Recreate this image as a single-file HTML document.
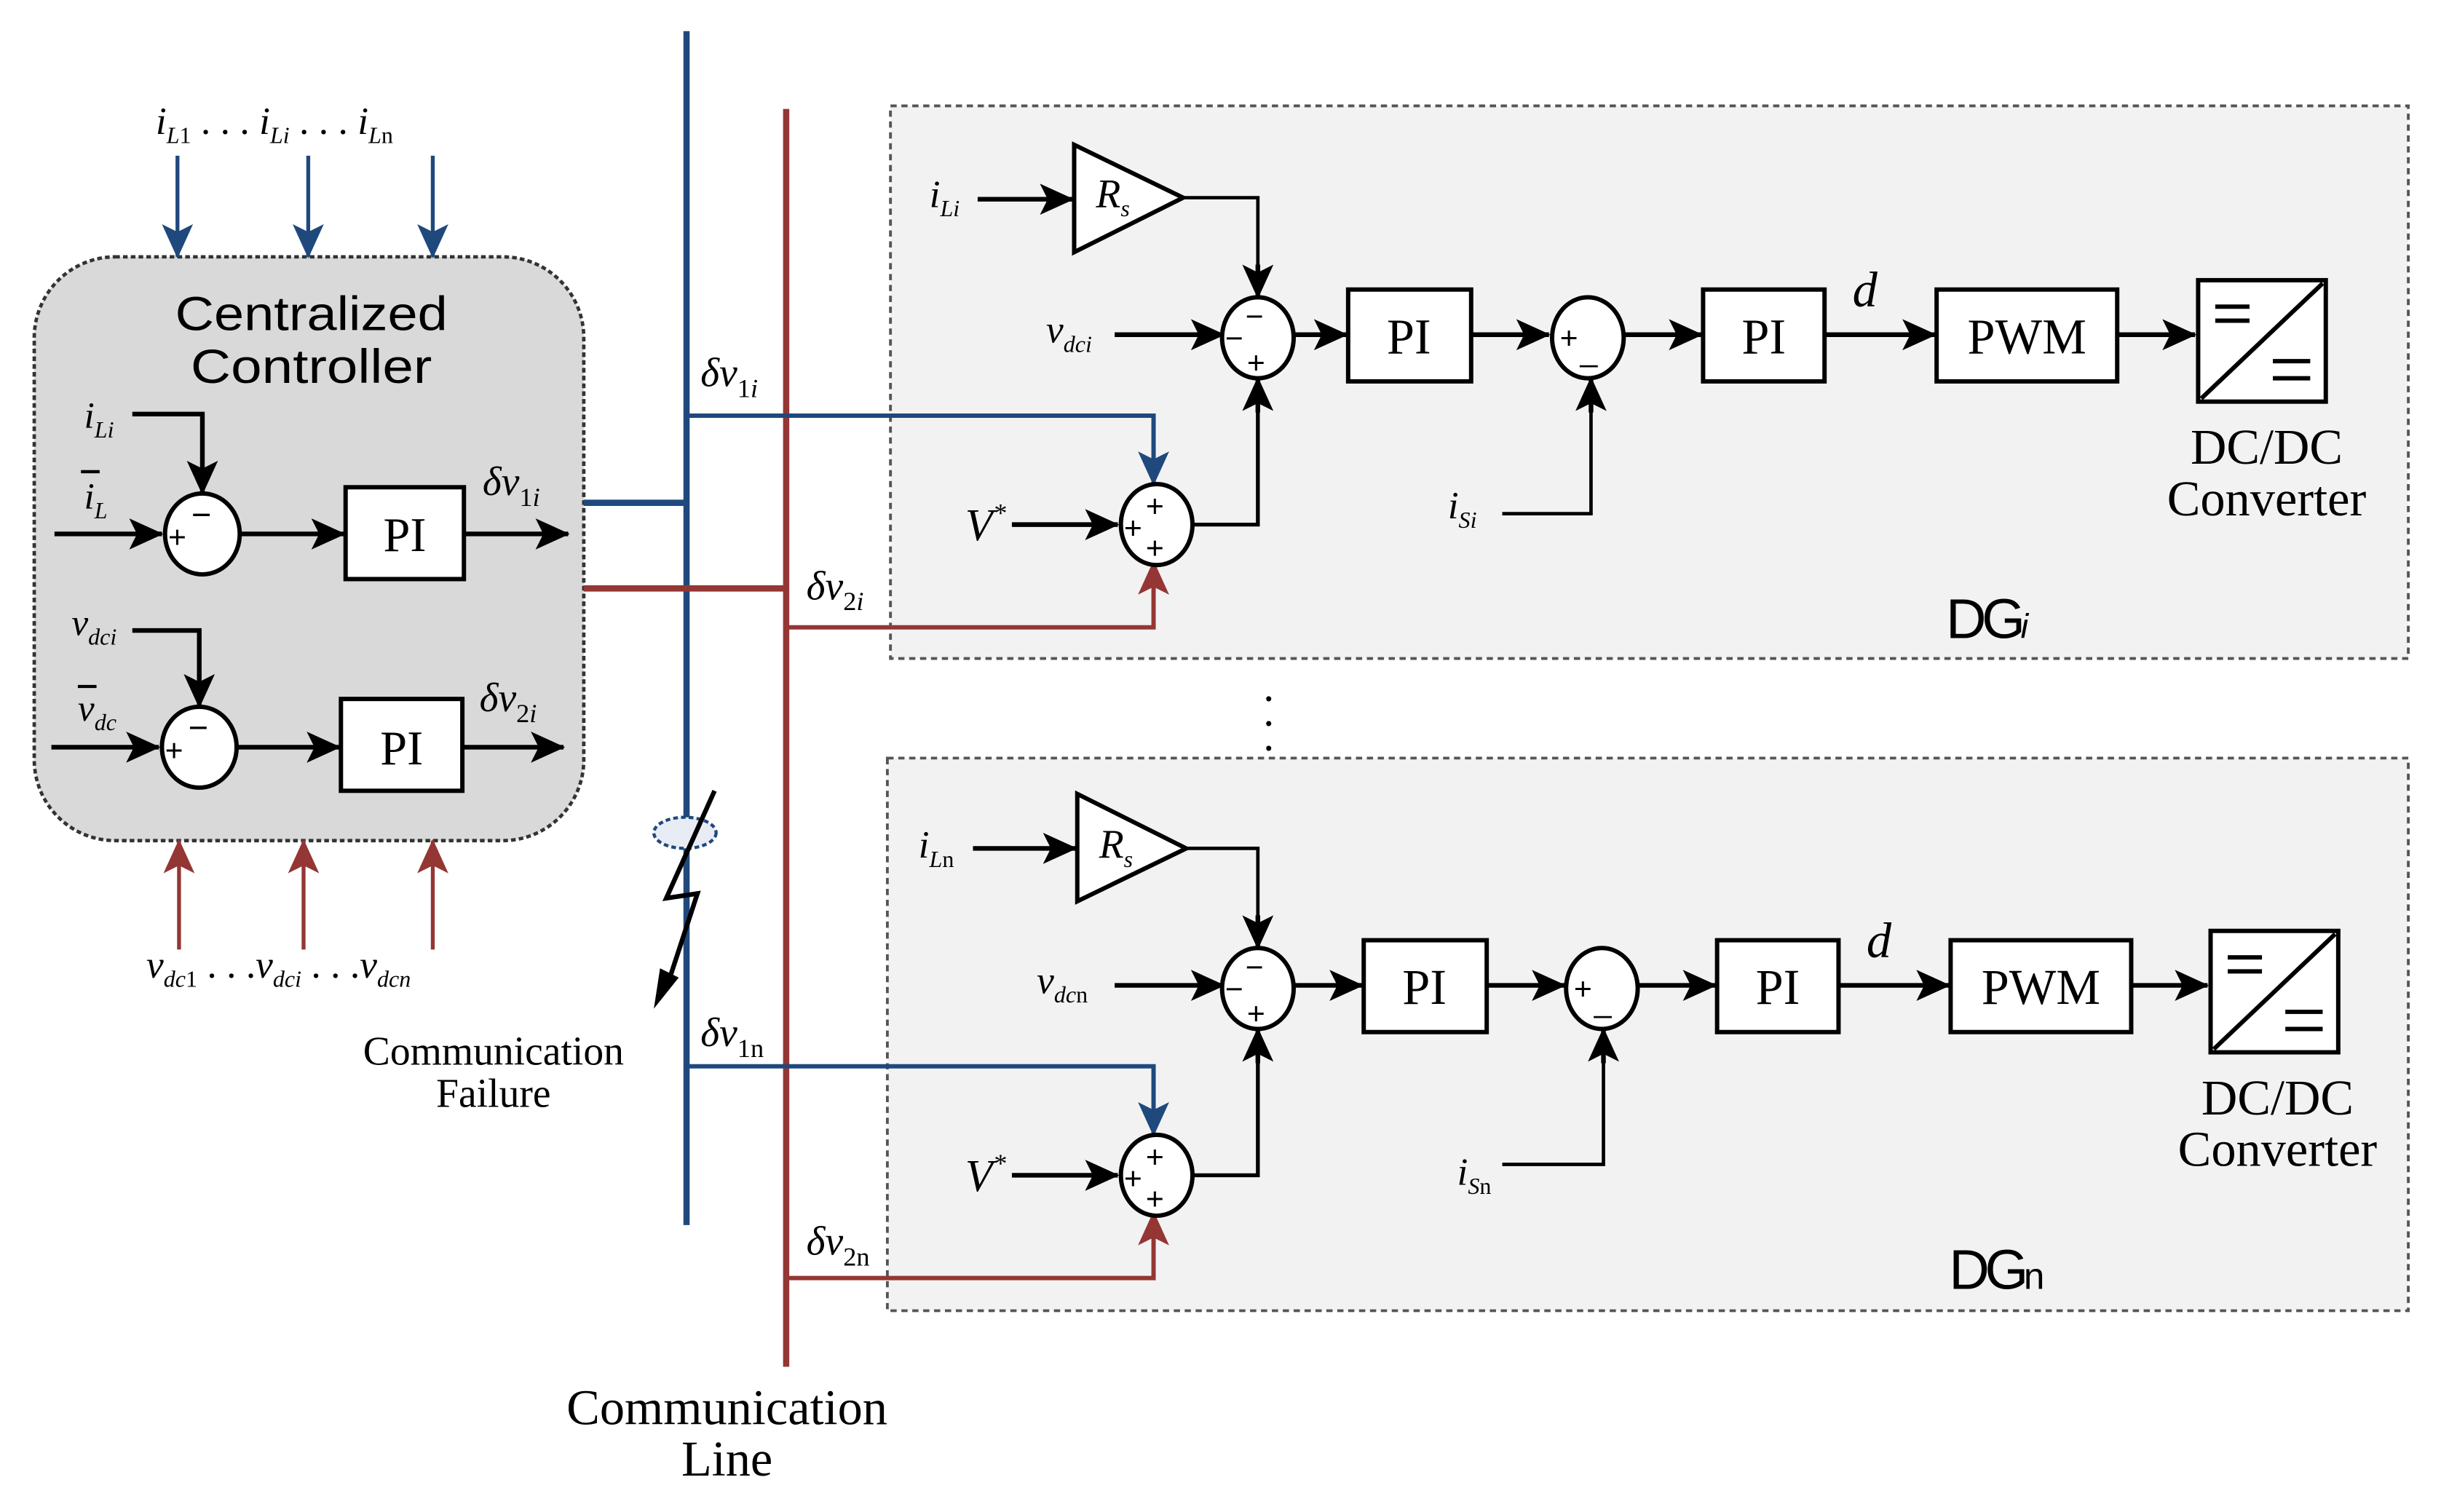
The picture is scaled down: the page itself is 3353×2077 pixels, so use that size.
<!DOCTYPE html>
<html><head><meta charset="utf-8"><style>
html,body{margin:0;padding:0;background:#fff}
svg{display:block}
.m{font-family:"Liberation Serif",serif;font-style:italic}
.r{font-family:"Liberation Serif",serif}
.s{font-family:"Liberation Sans",sans-serif}
.u{font-style:normal}
</style></head><body>
<svg width="3353" height="2077" viewBox="0 0 1568 971.3" preserveAspectRatio="none" xmlns="http://www.w3.org/2000/svg">
<defs>
<marker id="a" markerWidth="22" markerHeight="20" refX="21" refY="10" orient="auto" markerUnits="userSpaceOnUse"><path d="M0,0 L22,10 L0,20 L5,10z" fill="#000"/></marker>
<marker id="ab" markerWidth="22" markerHeight="20" refX="21" refY="10" orient="auto" markerUnits="userSpaceOnUse"><path d="M0,0 L22,10 L0,20 L5,10z" fill="#1f497d"/></marker>
<marker id="ar" markerWidth="22" markerHeight="20" refX="21" refY="10" orient="auto" markerUnits="userSpaceOnUse"><path d="M0,0 L22,10 L0,20 L5,10z" fill="#943634"/></marker>
</defs>

<rect x="572" y="68" width="975" height="355" fill="#f2f2f2" stroke="#555" stroke-width="1.8" stroke-dasharray="4,3"/>
<rect x="570" y="487" width="977" height="355" fill="#f2f2f2" stroke="#555" stroke-width="1.8" stroke-dasharray="4,3"/>

<rect x="22" y="165" width="353" height="375" rx="52" fill="#d9d9d9" stroke="#333" stroke-width="2.2" stroke-dasharray="3,2"/>
<text x="200" y="212" class="s" font-size="31" text-anchor="middle" textLength="175" lengthAdjust="spacingAndGlyphs">Centralized</text>
<text x="200" y="246" class="s" font-size="31" text-anchor="middle" textLength="155" lengthAdjust="spacingAndGlyphs">Controller</text>

<g stroke="#000" stroke-width="3" fill="none">
<polyline points="85,266 130,266 130,317" marker-end="url(#a)"/>
<line x1="35" y1="343" x2="104" y2="343" marker-end="url(#a)"/>
<line x1="154" y1="343" x2="221" y2="343" marker-end="url(#a)"/>
<line x1="298" y1="343" x2="365" y2="343" marker-end="url(#a)"/>
<polyline points="85,405 128,405 128,454" marker-end="url(#a)"/>
<line x1="33" y1="480" x2="102" y2="480" marker-end="url(#a)"/>
<line x1="152" y1="480" x2="218" y2="480" marker-end="url(#a)"/>
<line x1="297" y1="480" x2="362" y2="480" marker-end="url(#a)"/>
</g>
<g stroke="#000" stroke-width="2.8" fill="#fff">
<ellipse cx="130" cy="343" rx="24" ry="26"/>
<ellipse cx="128" cy="480" rx="24" ry="26"/>
<rect x="222" y="313" width="76" height="59"/>
<rect x="219" y="449" width="78" height="59"/>
</g>
<text x="260" y="354" class="r" font-size="31" text-anchor="middle">PI</text>
<text x="258" y="491" class="r" font-size="31" text-anchor="middle">PI</text>
<text x="108" y="352" class="s" font-size="20">+</text><text x="123" y="338" class="s" font-size="22">−</text>
<text x="106" y="489" class="s" font-size="20">+</text><text x="121" y="475" class="s" font-size="22">−</text>
<text x="54" y="275" class="m" font-size="24">i<tspan font-size="15" dy="6">Li</tspan></text>
<text x="54" y="327" class="m" font-size="24">i<tspan font-size="15" dy="6">L</tspan></text><line x1="52" y1="303" x2="64" y2="303" stroke="#000" stroke-width="2"/>
<text x="46" y="408" class="m" font-size="24">v<tspan font-size="15" dy="6">dci</tspan></text>
<text x="50" y="463" class="m" font-size="24">v<tspan font-size="15" dy="6">dc</tspan></text><line x1="50" y1="441" x2="62" y2="441" stroke="#000" stroke-width="2"/>
<text x="310" y="318" class="m" font-size="26">δv<tspan font-size="17" dy="7"><tspan class="u">1</tspan>i</tspan></text>
<text x="308" y="457" class="m" font-size="26">δv<tspan font-size="17" dy="7"><tspan class="u">2</tspan>i</tspan></text>

<g stroke="#1f497d" stroke-width="2.5">
<line x1="114" y1="100" x2="114" y2="165" marker-end="url(#ab)"/>
<line x1="198" y1="100" x2="198" y2="165" marker-end="url(#ab)"/>
<line x1="278" y1="100" x2="278" y2="165" marker-end="url(#ab)"/>
</g>
<g stroke="#943634" stroke-width="2.5">
<line x1="115" y1="610" x2="115" y2="540" marker-end="url(#ar)"/>
<line x1="195" y1="610" x2="195" y2="540" marker-end="url(#ar)"/>
<line x1="278" y1="610" x2="278" y2="540" marker-end="url(#ar)"/>
</g>
<text x="100" y="86" class="m" font-size="25">i<tspan font-size="15" dy="6">L</tspan><tspan class="r u" font-size="15">1</tspan><tspan dy="-6" class="r u"> . . .  </tspan>i<tspan font-size="15" dy="6">Li</tspan><tspan dy="-6" class="r u">  . . .  </tspan>i<tspan font-size="15" dy="6">L</tspan><tspan class="r u" font-size="15">n</tspan></text>
<text x="94" y="628" class="m" font-size="25">v<tspan font-size="15" dy="6">dc</tspan><tspan class="r u" font-size="15">1</tspan><tspan dy="-6" class="r u"> . . .</tspan>v<tspan font-size="15" dy="6">dci</tspan><tspan dy="-6" class="r u"> . . .</tspan>v<tspan font-size="15" dy="6">dcn</tspan></text>

<line x1="441" y1="20" x2="441" y2="787" stroke="#1f497d" stroke-width="4"/>
<line x1="505" y1="70" x2="505" y2="878" stroke="#943634" stroke-width="4"/>
<line x1="375" y1="323" x2="441" y2="323" stroke="#1f497d" stroke-width="4"/>
<line x1="375" y1="378" x2="505" y2="378" stroke="#943634" stroke-width="4"/>

<ellipse cx="440" cy="535" rx="20" ry="10" fill="#e8ecf4" stroke="#1f497d" stroke-width="2" stroke-dasharray="3,2"/>
<polyline points="459,508 428,577 448,574 428,635" fill="none" stroke="#000" stroke-width="3"/>
<path d="M420,648 L424,622 L436,628z" fill="#000"/>
<text x="317" y="684" class="r" font-size="26" text-anchor="middle">Communication</text>
<text x="317" y="711" class="r" font-size="26" text-anchor="middle">Failure</text>
<text x="467" y="915" class="r" font-size="32" text-anchor="middle">Communication</text>
<text x="467" y="948" class="r" font-size="32" text-anchor="middle">Line</text>
<text x="815" y="450" class="r" font-size="28" text-anchor="middle">.</text>
<text x="815" y="466" class="r" font-size="28" text-anchor="middle">.</text>
<text x="815" y="482" class="r" font-size="28" text-anchor="middle">.</text>

<g>
<polyline points="441,267 741,267 741,311" fill="none" stroke="#1f497d" stroke-width="2.8" marker-end="url(#ab)"/>
<polyline points="505,403 741,403 741,361" fill="none" stroke="#943634" stroke-width="2.8" marker-end="url(#ar)"/>
<text x="450" y="248" class="m" font-size="26">δv<tspan font-size="17" dy="7"><tspan class="u">1</tspan>i</tspan></text>
<text x="518" y="385" class="m" font-size="26">δv<tspan font-size="17" dy="7"><tspan class="u">2</tspan>i</tspan></text>
<g stroke="#000" stroke-width="3" fill="none">
<line x1="628" y1="128" x2="689" y2="128" marker-end="url(#a)"/>
<polyline points="760,127 808,127 808,191" stroke-width="2.2"/>
<line x1="808" y1="170" x2="808" y2="191" marker-end="url(#a)"/>
<line x1="716" y1="215" x2="786" y2="215" marker-end="url(#a)"/>
<line x1="832" y1="215" x2="865" y2="215" marker-end="url(#a)"/>
<line x1="945" y1="215" x2="995" y2="215" marker-end="url(#a)"/>
<line x1="1044" y1="215" x2="1093" y2="215" marker-end="url(#a)"/>
<line x1="1172" y1="215" x2="1243" y2="215" marker-end="url(#a)"/>
<line x1="1360" y1="215" x2="1410" y2="215" marker-end="url(#a)"/>
<polyline points="965,330 1022,330 1022,243" stroke-width="2.2"/>
<line x1="1022" y1="265" x2="1022" y2="243" marker-end="url(#a)"/>
<line x1="650" y1="337" x2="718" y2="337" marker-end="url(#a)"/>
<polyline points="767,337 808,337 808,243" stroke-width="2.5"/>
<line x1="808" y1="265" x2="808" y2="243" marker-end="url(#a)"/>
</g>
<g stroke="#000" stroke-width="2.8" fill="#fff">
<polygon points="690,93 690,162 760,127"/>
<ellipse cx="808" cy="217" rx="23" ry="26"/>
<ellipse cx="1020" cy="217" rx="23" ry="26"/>
<ellipse cx="743" cy="337" rx="23" ry="26"/>
<rect x="866" y="186" width="79" height="59"/>
<rect x="1094" y="186" width="78" height="59"/>
<rect x="1244" y="186" width="116" height="59"/>
<rect x="1412" y="180" width="82" height="78"/>
<line x1="1414" y1="256" x2="1492" y2="182"/>
<line x1="1423" y1="197" x2="1445" y2="197"/><line x1="1423" y1="206" x2="1445" y2="206"/>
<line x1="1460" y1="232" x2="1484" y2="232"/><line x1="1460" y1="243" x2="1484" y2="243"/>
</g>
<text x="905" y="227" class="r" font-size="32" text-anchor="middle">PI</text>
<text x="1133" y="227" class="r" font-size="32" text-anchor="middle">PI</text>
<text x="1302" y="227" class="r" font-size="32" text-anchor="middle">PWM</text>
<text x="1190" y="197" class="m" font-size="32">d</text>
<text x="704" y="133" class="m" font-size="26">R<tspan font-size="15" dy="6">s</tspan></text>
<text x="800" y="210" class="s" font-size="20">−</text><text x="787" y="224" class="s" font-size="20">−</text><text x="801" y="240" class="s" font-size="20">+</text>
<text x="1002" y="224" class="s" font-size="20">+</text><text x="1015" y="232" class="s" font-size="20">_</text>
<text x="736" y="332" class="s" font-size="20">+</text><text x="722" y="346" class="s" font-size="20">+</text><text x="736" y="359" class="s" font-size="20">+</text>
<text x="597" y="133" class="m" font-size="25">i<tspan font-size="15" dy="6">Li</tspan></text>
<text x="672" y="220" class="m" font-size="25">v<tspan font-size="15" dy="6">dci</tspan></text>
<text x="930" y="333" class="m" font-size="25">i<tspan font-size="15" dy="6">Si</tspan></text>
<text x="620" y="347" class="m" font-size="29">V<tspan font-size="17" dy="-12">*</tspan></text>
<text x="1456" y="298" class="r" font-size="32" text-anchor="middle">DC/DC</text>
<text x="1456" y="331" class="r" font-size="32" text-anchor="middle">Converter</text>
<text x="1250" y="410" class="s" font-size="36" letter-spacing="-3">DG<tspan font-size="22" font-style="italic">i</tspan></text>
</g>

<g transform="translate(0,418)">
<polyline points="441,267 741,267 741,311" fill="none" stroke="#1f497d" stroke-width="2.8" marker-end="url(#ab)"/>
<polyline points="505,403 741,403 741,361" fill="none" stroke="#943634" stroke-width="2.8" marker-end="url(#ar)"/>
<text x="450" y="254" class="m" font-size="26">δv<tspan font-size="17" dy="7"><tspan class="u">1n</tspan></tspan></text>
<text x="518" y="388" class="m" font-size="26">δv<tspan font-size="17" dy="7"><tspan class="u">2n</tspan></tspan></text>
<g stroke="#000" stroke-width="3" fill="none">
<line x1="625" y1="127" x2="691" y2="127" marker-end="url(#a)"/>
<polyline points="762,127 808,127 808,191" stroke-width="2.2"/>
<line x1="808" y1="170" x2="808" y2="191" marker-end="url(#a)"/>
<line x1="716" y1="215" x2="786" y2="215" marker-end="url(#a)"/>
<line x1="832" y1="215" x2="875" y2="215" marker-end="url(#a)"/>
<line x1="955" y1="215" x2="1005" y2="215" marker-end="url(#a)"/>
<line x1="1053" y1="215" x2="1102" y2="215" marker-end="url(#a)"/>
<line x1="1181" y1="215" x2="1252" y2="215" marker-end="url(#a)"/>
<line x1="1369" y1="215" x2="1418" y2="215" marker-end="url(#a)"/>
<polyline points="965,330 1030,330 1030,243" stroke-width="2.2"/>
<line x1="1030" y1="265" x2="1030" y2="243" marker-end="url(#a)"/>
<line x1="650" y1="337" x2="718" y2="337" marker-end="url(#a)"/>
<polyline points="767,337 808,337 808,243" stroke-width="2.5"/>
<line x1="808" y1="265" x2="808" y2="243" marker-end="url(#a)"/>
</g>
<g stroke="#000" stroke-width="2.8" fill="#fff">
<polygon points="692,92 692,161 762,127"/>
<ellipse cx="808" cy="217" rx="23" ry="26"/>
<ellipse cx="1029" cy="217" rx="23" ry="26"/>
<ellipse cx="743" cy="337" rx="23" ry="26"/>
<rect x="876" y="186" width="79" height="59"/>
<rect x="1103" y="186" width="78" height="59"/>
<rect x="1253" y="186" width="116" height="59"/>
<rect x="1420" y="180" width="82" height="78"/>
<line x1="1422" y1="256" x2="1500" y2="182"/>
<line x1="1431" y1="197" x2="1453" y2="197"/><line x1="1431" y1="206" x2="1453" y2="206"/>
<line x1="1468" y1="232" x2="1492" y2="232"/><line x1="1468" y1="243" x2="1492" y2="243"/>
</g>
<text x="915" y="227" class="r" font-size="32" text-anchor="middle">PI</text>
<text x="1142" y="227" class="r" font-size="32" text-anchor="middle">PI</text>
<text x="1311" y="227" class="r" font-size="32" text-anchor="middle">PWM</text>
<text x="1199" y="197" class="m" font-size="32">d</text>
<text x="706" y="133" class="m" font-size="26">R<tspan font-size="15" dy="6">s</tspan></text>
<text x="800" y="210" class="s" font-size="20">−</text><text x="787" y="224" class="s" font-size="20">−</text><text x="801" y="240" class="s" font-size="20">+</text>
<text x="1011" y="224" class="s" font-size="20">+</text><text x="1024" y="232" class="s" font-size="20">_</text>
<text x="736" y="332" class="s" font-size="20">+</text><text x="722" y="346" class="s" font-size="20">+</text><text x="736" y="359" class="s" font-size="20">+</text>
<text x="590" y="133" class="m" font-size="25">i<tspan font-size="15" dy="6">L</tspan><tspan class="r u" font-size="15">n</tspan></text>
<text x="666" y="220" class="m" font-size="25">v<tspan font-size="15" dy="6">dc</tspan><tspan class="r u" font-size="15">n</tspan></text>
<text x="936" y="343" class="m" font-size="25">i<tspan font-size="15" dy="6">S</tspan><tspan class="r u" font-size="15">n</tspan></text>
<text x="620" y="347" class="m" font-size="29">V<tspan font-size="17" dy="-12">*</tspan></text>
<text x="1463" y="298" class="r" font-size="32" text-anchor="middle">DC/DC</text>
<text x="1463" y="331" class="r" font-size="32" text-anchor="middle">Converter</text>
<text x="1252" y="410" class="s" font-size="36" letter-spacing="-3">DG<tspan font-size="24">n</tspan></text>
</g>
</svg>
</body></html>
